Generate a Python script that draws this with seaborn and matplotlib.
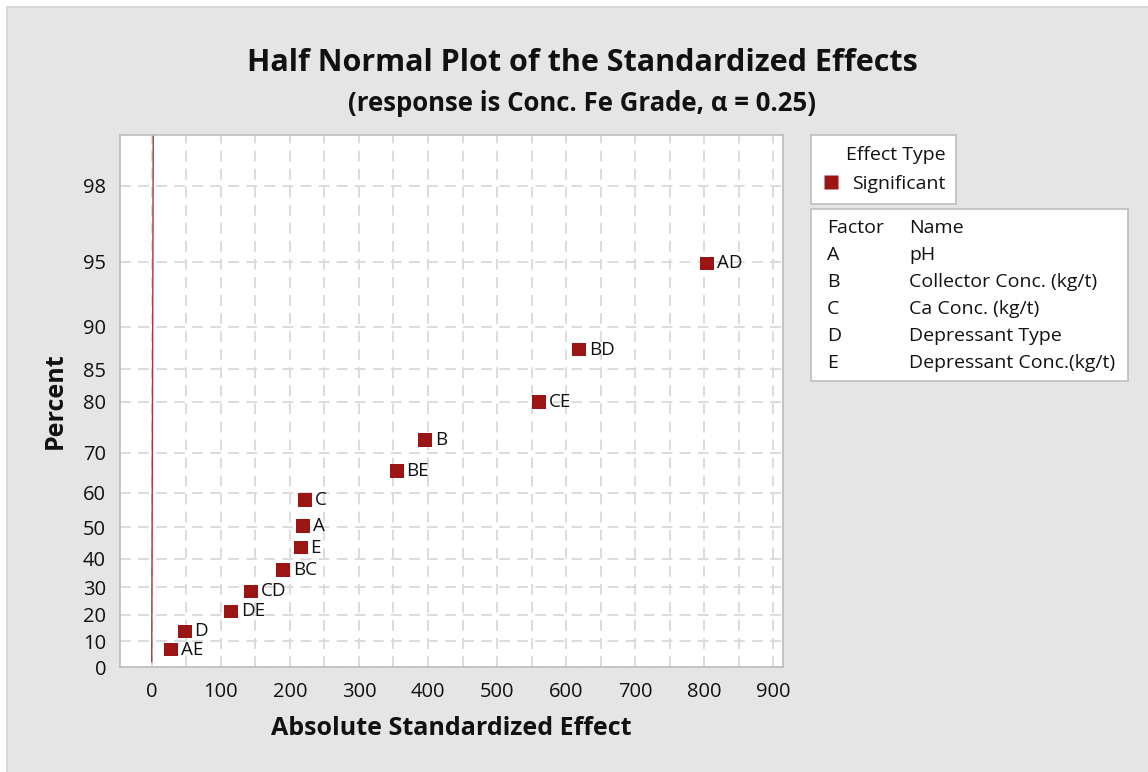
import matplotlib
matplotlib.use("Agg")
import matplotlib.pyplot as plt
from matplotlib.patches import Rectangle
from matplotlib.ticker import MultipleLocator, FixedLocator
import pandas as pd
import seaborn as sns
from statistics import NormalDist

terms = ["AE", "D", "DE", "CD", "BC", "E", "A", "C", "BE", "B", "CE", "BD", "AD"]
effects = [28, 48, 115, 144, 190, 216, 219, 222, 355, 396, 561, 619, 804]
percents = [6.7, 13.7, 21.2, 28.5, 36.1, 43.6, 50.4, 58.1, 65.6, 72.8, 80.0, 87.5, 94.9]
effect_type = ["Significant"] * len(terms)

pct_ticks = [0, 10, 20, 30, 40, 50, 60, 70, 80, 85, 90, 95, 98]
x_ticks = [0, 100, 200, 300, 400, 500, 600, 700, 800, 900]

# reference line (nearly vertical at zero)
ref_effect = [0, 2.2]
ref_pct = [2, 98.99]

factors = ["A", "B", "C", "D", "E"]
factor_names = ["pH", "Collector Conc. (kg/t)", "Ca Conc. (kg/t)",
                "Depressant Type", "Depressant Conc.(kg/t)"]

RED = "#9b1515"
BG = "#e5e5e5"
GRID = "#d9d9d9"
EDGE = "#bdbdbd"
INK = "#111111"


def half_normal(p):
    return [NormalDist().inv_cdf(0.5 + v / 200.0) for v in p]


df = pd.DataFrame({"term": terms, "effect": effects,
                   "z": half_normal(percents), "Effect Type": effect_type})

sns.set_style("white")
plt.rcParams["font.family"] = ["Open Sans", "DejaVu Sans"]

fig = plt.figure(figsize=(11.48, 7.72), dpi=100, facecolor="white")
# gray panel with thin border, small white margin top/left
fig.patches.append(Rectangle((7 / 1148, -0.01), 1.0, 1 - 7 / 772 + 0.01, transform=fig.transFigure,
                             facecolor=BG, edgecolor="#d2d2d2", lw=1.2, zorder=-10))

ax = fig.add_axes([0.1045, 0.136, 0.5775, 0.689])
ax.set_facecolor("white")

ax.plot(ref_effect, half_normal(ref_pct), color="#a83838", lw=1.0, zorder=2)

sns.scatterplot(data=df, x="effect", y="z", hue="Effect Type",
                palette={"Significant": RED}, marker="s", s=95,
                edgecolor="none", ax=ax, zorder=3)

for t, x, z in zip(df["term"], df["effect"], df["z"]):
    ax.annotate(t, (x, z), xytext=(7, 0), textcoords="offset points",
                va="center", ha="left", fontsize=13.5, color=INK)

ax.set_xlim(-46, 914)
ax.set_ylim(0, 2.571)
ax.xaxis.set_major_locator(FixedLocator(x_ticks))
ax.xaxis.set_minor_locator(MultipleLocator(50))
ax.set_yticks(half_normal(pct_ticks))
ax.set_yticklabels([str(p) for p in pct_ticks])
ax.grid(True, which="both", axis="x", color=GRID, lw=1.3, ls=(0, (6, 4)))
ax.grid(True, which="major", axis="y", color=GRID, lw=1.3, ls=(0, (6, 4)))
ax.tick_params(axis="both", which="major", length=6, width=1, color=EDGE,
               labelsize=14.5, labelcolor=INK, direction="out")
ax.tick_params(axis="x", which="major", pad=5)
ax.tick_params(axis="y", which="major", pad=4)
ax.tick_params(axis="x", which="minor", length=0)
for sp in ax.spines.values():
    sp.set_color(EDGE)
    sp.set_linewidth(1.2)

ax.set_xlabel("Absolute Standardized Effect", fontsize=18, fontweight="bold",
              labelpad=10, color=INK)
ax.set_ylabel("Percent", fontsize=18, fontweight="bold", labelpad=11, color=INK)

fig.text(0.507, 0.918, "Half Normal Plot of the Standardized Effects",
         ha="center", va="center", fontsize=22, fontweight="bold", color=INK)
fig.text(0.507, 0.866, "(response is Conc. Fe Grade, \u03b1 = 0.25)",
         ha="center", va="center", fontsize=18.5, fontweight="bold", color=INK)

sns.move_legend(ax, "upper left", bbox_to_anchor=(0.7065, 0.825),
                bbox_transform=fig.transFigure, frameon=True, fancybox=False,
                edgecolor=EDGE, framealpha=1, fontsize=14, borderaxespad=0,
                title="Effect Type", title_fontsize=14, borderpad=0.55,
                handlelength=1.0, handletextpad=0.55, markerscale=1.0,
                labelspacing=0.5)
leg = ax.get_legend()
leg.get_frame().set_linewidth(1.2)
leg._legend_box.align = "right"
leg._legend_box.sep = 8
for txt in leg.get_texts():
    txt.set_color(INK)
leg.get_title().set_color(INK)

# factor table
fig.patches.append(Rectangle((0.7065, 0.5065), 0.2761, 0.2228, transform=fig.transFigure,
                             facecolor="white", edgecolor=EDGE, lw=1.2))
rows_y = [228, 255, 282, 309, 336, 363]
fig.text(827 / 1148, 1 - rows_y[0] / 772, "Factor", va="center", fontsize=14, color=INK)
fig.text(909 / 1148, 1 - rows_y[0] / 772, "Name", va="center", fontsize=14, color=INK)
for f, n, y in zip(factors, factor_names, rows_y[1:]):
    fig.text(827 / 1148, 1 - y / 772, f, va="center", fontsize=14, color=INK)
    fig.text(909 / 1148, 1 - y / 772, n, va="center", fontsize=14, color=INK)

fig.savefig("out.png", dpi=100, facecolor="white")
